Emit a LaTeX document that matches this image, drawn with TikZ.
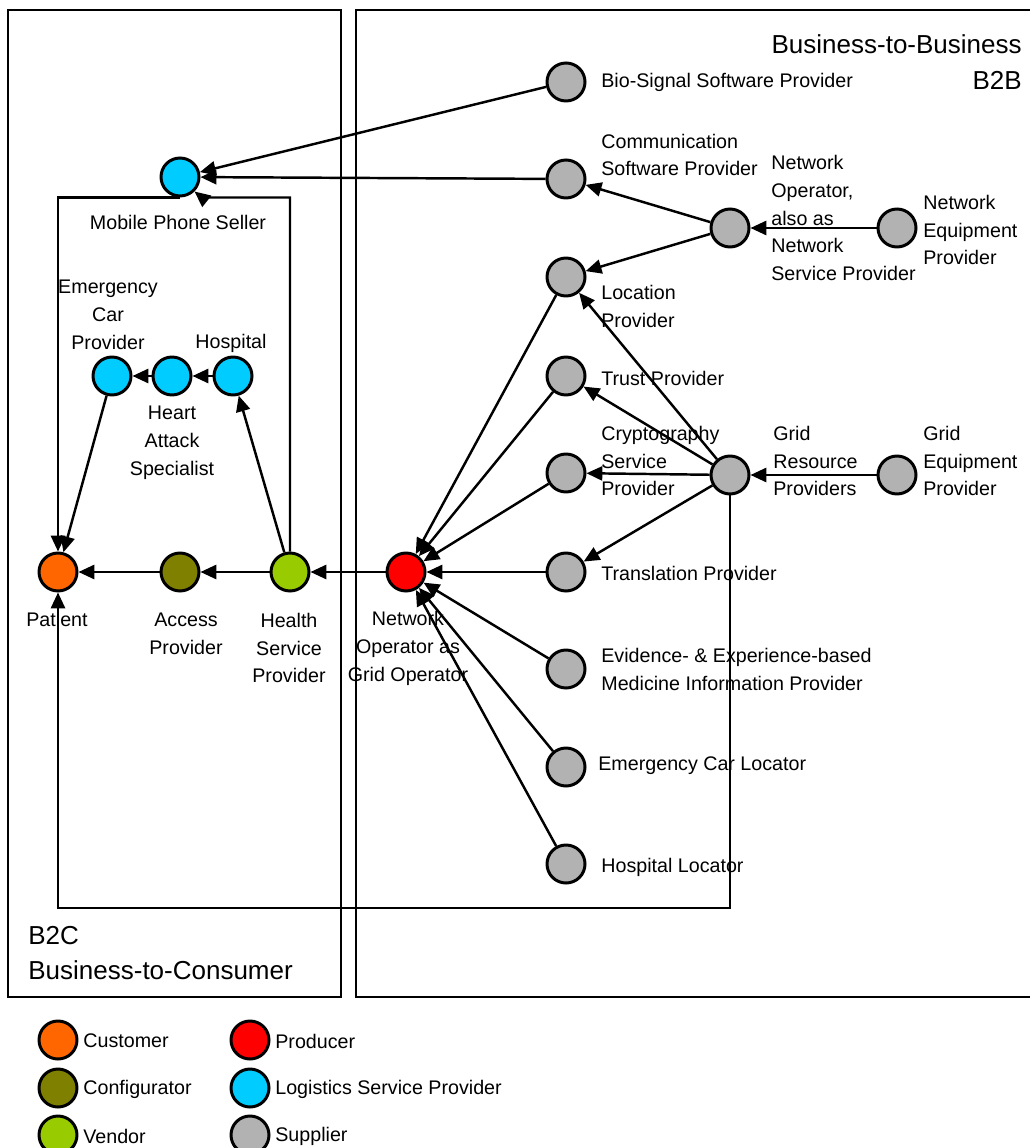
\documentclass[tikz,border=0pt]{standalone}
\usepackage{fontspec}
\setmainfont{Liberation Sans}
\usetikzlibrary{arrows.meta}
\definecolor{custc}{HTML}{FF6600}
\definecolor{confc}{HTML}{808000}
\definecolor{vendc}{HTML}{99CC00}
\definecolor{prodc}{HTML}{FF0000}
\definecolor{logc}{HTML}{00CCFF}
\definecolor{suppc}{HTML}{B2B2B2}
\begin{document}
\begin{tikzpicture}[x=0.02cm,y=-0.02cm,
  actor/.style={circle,draw=black,line width=1.7pt,minimum size=0.76cm,inner sep=0pt},
  cust/.style={actor,fill=custc},
  conf/.style={actor,fill=confc},
  vend/.style={actor,fill=vendc},
  prod/.style={actor,fill=prodc},
  logi/.style={actor,fill=logc},
  supp/.style={actor,fill=suppc},
  lbl/.style={inner sep=0pt,font=\fontsize{11.2}{15.9}\selectfont},
  lblw/.style={lbl,anchor=west,align=left},
  lblc/.style={lbl,align=center},
  big/.style={inner sep=0pt,font=\fontsize{14.8}{20.4}\selectfont},
  arr/.style={-{Triangle[length=9pt,width=8pt]},line width=1.4pt},
  frame/.style={line width=0.8pt}]
\useasboundingbox (0,0) rectangle (1029,1148);

% areas
\draw[frame] (8,10) rectangle (341,997);
\draw[frame] (356,10) rectangle (1040,997);
\node[big,anchor=east,align=right] (b2b) at (1022,62) {Business-to-Business\\B2B};
\node[big,anchor=west,align=left] (b2c) at (28,953) {B2C\\Business-to-Consumer};

% actors
\node[supp] (bio) at (566,82) {};
\node[logi] (mps) at (180,177) {};
\node[supp] (comm) at (566,179) {};
\node[supp] (nsp) at (730,228) {};
\node[supp] (neq) at (897,228) {};
\node[supp] (loc) at (566,277) {};
\node[supp] (trust) at (566,376) {};
\node[supp] (crypt) at (566,473) {};
\node[supp] (grid) at (730,475) {};
\node[supp] (geq) at (897,475) {};
\node[supp] (trans) at (566,572) {};
\node[supp] (evid) at (566,669) {};
\node[supp] (ecl) at (566,767) {};
\node[supp] (hloc) at (566,864) {};
\node[prod] (nogo) at (406,572) {};
\node[vend] (hsp) at (290,572) {};
\node[conf] (acc) at (180,572) {};
\node[cust] (pat) at (58,572) {};
\node[logi] (ecp) at (112,376) {};
\node[logi] (has) at (172,376) {};
\node[logi] (hosp) at (233,376) {};

% labels
\node[lblw] (lbio) at (601,82) {Bio-Signal Software Provider};
\node[lblw] (lcomm) at (601,155) {Communication\\Software Provider};
\node[lblw] (lnsp) at (771,218) {Network\\Operator,\\also as\\Network\\Service Provider};
\node[lblw] (lneq) at (923,230) {Network\\Equipment\\Provider};
\node[lblw] (lloc) at (601,306) {Location\\Provider};
\node[lblw] (ltrust) at (601,378) {Trust Provider};
\node[lblw] (lcrypt) at (601,461) {Cryptography\\Service\\Provider};
\node[lblw] (lgrid) at (773,461) {Grid\\Resource\\Providers};
\node[lblw] (lgeq) at (923,461) {Grid\\Equipment\\Provider};
\node[lblw] (ltrans) at (601,573) {Translation Provider};
\node[lblw] (levid) at (601,669) {Evidence- \& Experience-based\\Medicine Information Provider};
\node[lblw] (lecl) at (598,766) {Emergency Car Locator};
\node[lblw] (lhloc) at (601,867) {Hospital Locator};
\node[lblc] (lnogo) at (408,648) {Network\\Operator as\\Grid Operator};
\node[lblc] (lpat) at (57,619) {Patient};
\node[lblc] (lacc) at (186,634) {Access\\Provider};
\node[lblc] (lhsp) at (289,648) {Health\\Service\\Provider};
\node[lblc] (lmps) at (178,222) {Mobile Phone Seller};
\node[lblc] (lecp) at (108,315) {Emergency\\Car\\Provider};
\node[lblc] (lhosp) at (231,343) {Hospital};
\node[lblc] (lhas) at (172,443) {Heart\\Attack\\Specialist};

% value flows
\draw[arr] (bio) -- (mps);
\draw[arr] (comm) -- (mps);
\draw[arr] (hsp.north) |- ([xshift=0.44cm]mps.south) -- (mps.-45);
\draw[arr] (mps.south) -| (pat.north);
\draw[arr] (nsp) -- (comm);
\draw[arr] (nsp) -- (loc);
\draw[arr] (neq) -- (nsp);
\draw[arr] (geq) -- (grid);
\draw[arr] (grid) -- (loc);
\draw[arr] (grid) -- (trust);
\draw[arr] (grid) -- (crypt);
\draw[arr] (grid) -- (trans);
\coordinate (gturn) at (730,908);
\draw[arr] (grid.south) -- (gturn) -| (pat.south);
\foreach \s in {loc,trust,crypt,trans,evid,ecl,hloc}
  \draw[arr] (\s) -- (nogo);
\draw[arr] (nogo) -- (hsp);
\draw[arr] (hsp) -- (acc);
\draw[arr] (acc) -- (pat);
\draw[arr] (hsp) -- (hosp);
\draw[arr] (hosp) -- (has);
\draw[arr] (has) -- (ecp);
\draw[arr] (ecp) -- (pat);

% legend
\node[cust] (kcust) at (58,1040) {};
\node[conf] (kconf) at (58,1088) {};
\node[vend] (kvend) at (58,1135) {};
\node[prod] (kprod) at (250,1040) {};
\node[logi] (klogi) at (250,1088) {};
\node[supp] (ksupp) at (250,1135) {};
\node[lblw] (tcust) at (83,1041) {Customer};
\node[lblw] (tconf) at (83,1089) {Configurator};
\node[lblw] (tvend) at (83,1136) {Vendor};
\node[lblw] (tprod) at (275,1041) {Producer};
\node[lblw] (tlogi) at (275,1089) {Logistics Service Provider};
\node[lblw] (tsupp) at (275,1136) {Supplier};
\end{tikzpicture}
\end{document}
